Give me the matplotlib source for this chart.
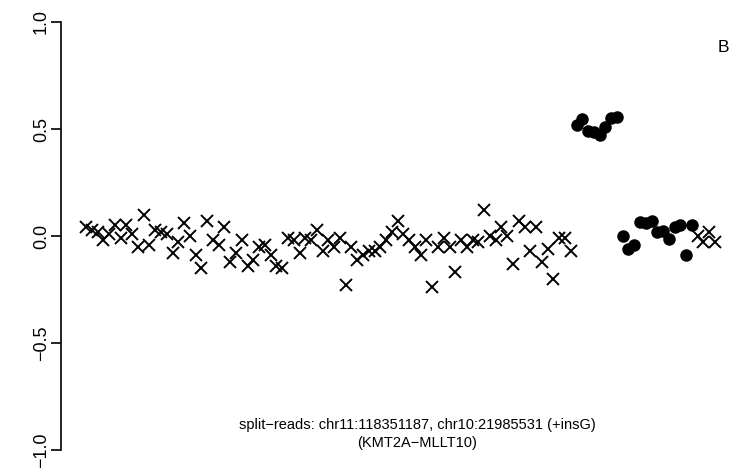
import matplotlib
matplotlib.use("Agg")
import matplotlib.pyplot as plt
import numpy as np

plt.rcParams['font.family'] = ['Liberation Sans', 'DejaVu Sans']

# Values (series in plotting order)
cross_left = [0.04, 0.03, 0.02, -0.02, 0.01, 0.05, -0.01, 0.05, 0.01, -0.05,
              0.10, -0.04, 0.03, 0.02, 0.01, -0.08, -0.03, 0.06, 0.00, -0.09,
              -0.15, 0.07, -0.02, -0.04, 0.04, -0.12, -0.08, -0.02, -0.14, -0.11,
              -0.05, -0.04, -0.09, -0.14, -0.15, -0.01, -0.02, -0.08, -0.01, -0.02,
              0.03, -0.07, -0.02, -0.05, -0.01, -0.23, -0.05, -0.11, -0.09, -0.07,
              -0.07, -0.05, -0.02, 0.02, 0.07, 0.01, -0.02, -0.05, -0.09, -0.02,
              -0.24, -0.05, -0.01, -0.05, -0.17, -0.02, -0.05, -0.02, -0.03, 0.12,
              0.00, -0.02, 0.04, 0.00, -0.13, 0.07, 0.04, -0.07, 0.04, -0.12,
              -0.06, -0.20, -0.01, -0.01, -0.07]
dots_high = [0.52, 0.545, 0.49, 0.485, 0.47, 0.51, 0.55, 0.555]
dots_low = [0.00, -0.06, -0.04, 0.065, 0.06, 0.07, 0.02, 0.025, -0.015,
            0.04, 0.05, -0.09, 0.05]
cross_right = [0.00, -0.03, 0.02, -0.03]

y_ticks = [-1.0, -0.5, 0.0, 0.5, 1.0]
y_tick_labels = ["\u22121.0", "\u22120.5", "0.0", "0.5", "1.0"]
panel_label = "B"
caption = "split\u2212reads: chr11:118351187, chr10:21985531 (+insG)\n(KMT2A\u2212MLLT10)"

n1 = len(cross_left)
n2 = len(dots_high)
n3 = len(dots_low)
n4 = len(cross_right)
x1 = np.arange(1, n1 + 1)
x2 = np.arange(n1 + 1, n1 + n2 + 1)
x3 = np.arange(n1 + n2 + 1, n1 + n2 + n3 + 1)
x4 = np.arange(n1 + n2 + n3 + 1, n1 + n2 + n3 + n4 + 1)
N = n1 + n2 + n3 + n4

W, H = 733, 468
fig = plt.figure(figsize=(W / 100, H / 100), dpi=100)
left_px, right_px = 61, 733
top_px, bot_px = 22, 450
ax = fig.add_axes([left_px / W, 1 - bot_px / H, (right_px - left_px) / W, (bot_px - top_px) / H])

ax.plot(x1, cross_left, ls='none', marker='x', ms=9, mew=1.4, color='black', clip_on=False)
ax.plot(x4, cross_right, ls='none', marker='x', ms=9, mew=1.4, color='black', clip_on=False)
ax.plot(x2, dots_high, ls='none', marker='o', ms=8, color='black', clip_on=False)
ax.plot(x3, dots_low, ls='none', marker='o', ms=8, color='black', clip_on=False)

# x scale: point 1 at 86px, point N at 715px
ppu = (715 - 86) / (N - 1)
ax.set_xlim(1 - (86 - left_px) / ppu, N + (right_px - 715) / ppu)
ax.set_ylim(-1, 1)

for s in ['top', 'right', 'bottom']:
    ax.spines[s].set_visible(False)
ax.spines['left'].set_linewidth(1.2)
ax.set_xticks([])
ax.set_yticks(y_ticks)
ax.set_yticklabels(y_tick_labels, rotation=90, va='center', fontsize=13)
ax.tick_params(axis='y', length=7, width=1.2, pad=1)

fig.text(729 / W, 1 - 48 / H, panel_label, ha='right', va='center', fontsize=12.5)
fig.text(417 / W, 1 - 434 / H, caption, ha='center', va='center', fontsize=10.5, linespacing=1.3)

fig.savefig("out.png", dpi=100)
